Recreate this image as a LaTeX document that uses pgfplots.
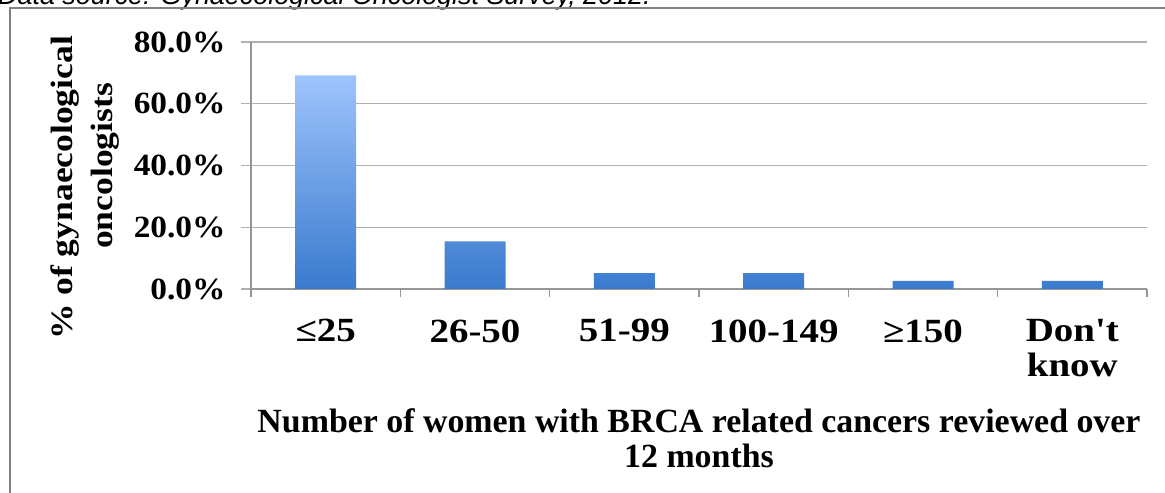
\documentclass[border=0pt]{standalone}
\usepackage{pgfplots}
\pgfplotsset{compat=1.18}
\usepackage{fontspec}
\setmainfont{Liberation Serif}
\newfontfamily\cam[FakeStretch=1.15]{Liberation Serif}
\newfontfamily\camy[FakeStretch=1.08]{Liberation Serif}
\newfontfamily\arialf{Liberation Sans}
\definecolor{gridgray}{RGB}{176,176,176}
\definecolor{axgray}{RGB}{150,150,150}
\definecolor{bartop}{RGB}{158,196,252}
\definecolor{barbot}{RGB}{58,122,206}
\definecolor{frame}{RGB}{128,128,128}
\begin{document}
\begin{tikzpicture}[x=1bp,y=1bp]
\useasboundingbox (0,0) rectangle (1165,493);
\fill[white] (0,0) rectangle (1165,493);
\node[anchor=base west, inner sep=0pt, font=\arialf\itshape\fontsize{27}{30}\selectfont] at (-2,488) {Data source: Gynaecological Oncologist Survey, 2012.};
\draw[frame, line width=2bp] (10,-5) -- (10,485) -- (1170,485);
\begin{axis}[
  at={(251bp,204bp)}, anchor=south west,
  scale only axis, width=896bp, height=247bp,
  xmin=-0.5, xmax=5.5, ymin=0, ymax=80,
  axis x line*=bottom, axis y line*=left,
  axis line style={draw=axgray, line width=1.3bp},
  ymajorgrids, grid style={draw=gridgray, line width=1.3bp},
  ytick={0,20,40,60,80},
  /pgf/number format/assume math mode=true,
  yticklabel={\pgfmathprintnumber[fixed,fixed zerofill,precision=1]{\tick}\%},
  yticklabel style={font=\camy\bfseries\fontsize{31}{36}\selectfont, xshift=-12bp},
  ytick style={draw=gridgray, line width=1.3bp},
  major tick length=10bp, tick align=outside,
  xtick={0,1,2,3,4,5},
  xticklabels={{≤25},{26-50},{51-99},{100-149},{≥150},{Don't\\know}},
  xtick style={draw=none},
  xticklabel style={font=\cam\bfseries\fontsize{34}{35}\selectfont, align=center, anchor=north, yshift=-17bp},
  extra x ticks={-0.5,0.5,1.5,2.5,3.5,4.5,5.5},
  extra x tick labels={},
  extra x tick style={xtick style={draw=axgray, line width=1.3bp}, major tick length=8bp},
  ylabel={\% of gynaecological\\\hspace*{44bp}oncologists},
  ylabel style={at={(axis description cs:-0.185,0.409)}, anchor=center, align=center, font=\cam\bfseries\fontsize{31}{40}\selectfont},
  xlabel={Number of women with BRCA related cancers reviewed over\\12 months},
  xlabel style={at={(axis description cs:0.5,-0.605)}, anchor=center, align=center, font=\bfseries\fontsize{34}{35}\selectfont},
  ybar, bar width=61bp,
]
\addplot[draw=none, top color=bartop, bottom color=barbot] coordinates {(0,69.2) (1,15.4) (2,5.1) (3,5.1) (4,2.6) (5,2.6)};
\end{axis}
\end{tikzpicture}
\end{document}
